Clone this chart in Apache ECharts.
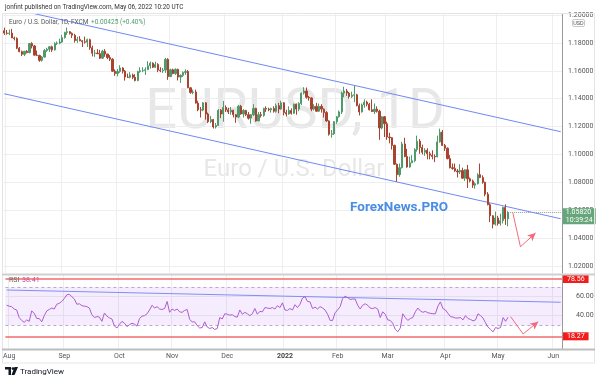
<!DOCTYPE html>
<html><head><meta charset="utf-8">
<script src="https://cdn.jsdelivr.net/npm/echarts@6/dist/echarts.min.js"></script>
<style>html,body{margin:0;padding:0;background:#fff}#c{width:600px;height:382px}</style>
</head><body><div id="c"></div>
<script>
// ---- data (EUR/USD daily, FXCM) ----
const openP = [1.1887,
1.1870,1.1868,1.1870,1.1835,1.1832,1.1762,1.1737,1.1718,1.1740,1.1730,1.1795,1.1778,1.1712,1.1710,1.1675,1.1698,1.1745,1.1755,1.1772,1.1750,1.1795,1.1798,
1.1806,1.1838,1.1875,1.1880,1.1868,1.1855,1.1817,1.1825,1.1815,1.1808,1.1805,1.1823,1.1765,1.1726,1.1727,1.1722,1.1690,1.1740,1.1720,1.1695,1.1683,1.1597,
1.1580,1.1595,1.1620,1.1597,1.1555,1.1553,1.1570,1.1553,1.1530,1.1595,1.1600,1.1602,1.1608,1.1635,1.1655,1.1625,1.1645,1.1605,1.1600,1.1605,1.1682,
1.1558,1.1607,1.1580,1.1610,1.1555,1.1567,1.1588,1.1595,1.1478,1.1445,1.1448,1.1368,1.1320,1.1318,1.1370,1.1290,1.1235,1.1250,1.1197,1.1208,1.1317,1.1290,
1.1337,1.1320,1.1305,1.1317,1.1285,1.1268,1.1345,1.1290,1.1315,1.1285,1.1260,1.1285,1.1330,1.1240,1.1285,1.1280,1.1330,1.1325,1.1320,1.1330,1.1310,1.1350,1.1325,
1.1370,1.1300,1.1290,1.1315,1.1295,1.1360,1.1325,1.1365,1.1440,1.1455,1.1410,1.1405,1.1325,1.1345,1.1310,1.1345,1.1325,1.1300,1.1240,1.1145,1.1148,
1.1235,1.1270,1.1305,1.1440,1.1455,1.1440,1.1415,1.1425,1.1428,1.1350,1.1305,1.1355,1.1375,1.1360,1.1320,1.1307,1.1325,1.1310,1.1190,1.1270,
1.1220,1.1125,1.1120,1.1065,1.0930,1.0855,1.0905,1.1075,1.0985,1.0910,1.0940,1.0955,1.1035,1.1095,1.1050,1.1015,1.1030,1.1005,1.0995,1.0985,1.0982,1.1090,1.1160,
1.1065,1.1045,1.0970,1.0905,1.0900,1.0882,1.0875,1.0885,1.0830,1.0890,1.0825,1.0810,1.0780,1.0790,1.0855,1.0835,1.0800,1.0715,1.0640,1.0560,1.0500,
1.0545,1.0505,1.0525,1.0620,1.05395];
const highP = [1.1909,
1.1892,1.1895,1.1900,1.1845,1.1840,1.1770,1.1745,1.1742,1.1748,1.1800,1.1805,1.1785,1.1745,1.1715,1.1705,1.1755,1.1765,1.1775,1.1780,1.1805,1.1810,1.1830,
1.1857,1.1880,1.1909,1.1885,1.1875,1.1865,1.1844,1.1848,1.1820,1.1845,1.1830,1.1830,1.1780,1.1750,1.1755,1.1750,1.1750,1.1755,1.1720,1.1712,1.1690,1.1610,
1.1613,1.1640,1.1625,1.1605,1.1580,1.1590,1.1580,1.1575,1.1600,1.1625,1.1625,1.1625,1.1668,1.1665,1.1660,1.1665,1.1655,1.1625,1.1620,1.1692,1.1690,
1.1615,1.1615,1.1617,1.1615,1.1575,1.1595,1.1610,1.1605,1.1480,1.1465,1.1465,1.1385,1.1340,1.1375,1.1375,1.1300,1.1275,1.1255,1.1225,1.1325,1.1325,1.1383,
1.1352,1.1335,1.1340,1.1320,1.1290,1.1355,1.1355,1.1325,1.1320,1.1305,1.1290,1.1360,1.1335,1.1305,1.1305,1.1335,1.1345,1.1335,1.1335,1.1345,1.1365,1.1370,1.1385,
1.1375,1.1320,1.1345,1.1330,1.1365,1.1365,1.1375,1.1445,1.1482,1.1480,1.1420,1.1410,1.1360,1.1370,1.1365,1.1360,1.1330,1.1310,1.1245,1.1175,1.1240,
1.1275,1.1315,1.1450,1.1485,1.1470,1.1448,1.1450,1.1495,1.1435,1.1365,1.1365,1.1395,1.1385,1.1370,1.1395,1.1365,1.1345,1.1320,1.1275,1.1275,
1.1235,1.1155,1.1125,1.1070,1.0935,1.0935,1.1090,1.1120,1.1040,1.0985,1.0995,1.1045,1.1135,1.1110,1.1070,1.1045,1.1045,1.1020,1.1030,1.1000,1.1135,1.1185,1.1175,
1.1075,1.1050,1.0995,1.0935,1.0935,1.0895,1.0930,1.0905,1.0895,1.0925,1.0835,1.0820,1.0800,1.0865,1.0935,1.0850,1.0805,1.0730,1.0650,1.0565,1.0590,
1.0560,1.0575,1.0625,1.0642,1.0593];
const lowP = [1.1857,
1.1859,1.1855,1.1835,1.1818,1.1755,1.1733,1.1705,1.1705,1.1725,1.1725,1.1760,1.1710,1.1705,1.1664,1.1665,1.1695,1.1735,1.1735,1.1735,1.1745,1.1785,1.1790,
1.1800,1.1830,1.1857,1.1860,1.1835,1.1802,1.1800,1.1812,1.1770,1.1795,1.1770,1.1750,1.1703,1.1700,1.1720,1.1684,1.1686,1.1700,1.1683,1.1670,1.1592,1.1563,
1.1560,1.1585,1.1580,1.1529,1.1548,1.1545,1.1540,1.1524,1.1525,1.1585,1.1590,1.1570,1.1605,1.1615,1.1620,1.1620,1.1590,1.1590,1.1585,1.1585,1.1535,
1.1555,1.1575,1.1570,1.1530,1.1513,1.1555,1.1570,1.1475,1.1435,1.1432,1.1365,1.1310,1.1265,1.1310,1.1250,1.1225,1.1225,1.1186,1.1186,1.1205,1.1260,1.1235,
1.1305,1.1290,1.1285,1.1265,1.1227,1.1260,1.1285,1.1265,1.1275,1.1250,1.1220,1.1275,1.1235,1.1240,1.1265,1.1270,1.1305,1.1310,1.1300,1.1300,1.1300,1.1295,1.1320,
1.1280,1.1272,1.1285,1.1285,1.1290,1.1285,1.1310,1.1355,1.1430,1.1400,1.1385,1.1310,1.1315,1.1305,1.1305,1.1300,1.1265,1.1235,1.1135,1.1120,1.1140,
1.1220,1.1265,1.1290,1.1410,1.1420,1.1400,1.1405,1.1375,1.1345,1.1280,1.1300,1.1335,1.1345,1.1315,1.1305,1.1290,1.1300,1.1105,1.1180,1.1125,
1.1105,1.1080,1.1035,1.0925,1.0805,1.0840,1.0900,1.0980,1.0905,1.0905,1.0940,1.0945,1.1020,1.1005,1.1000,1.0990,1.0965,1.0965,1.0965,1.0945,1.0980,1.1085,1.1060,
1.1025,1.0965,1.0900,1.0890,1.0875,1.0835,1.0860,1.0825,1.0810,1.0760,1.0800,1.0760,1.0755,1.0785,1.0830,1.0790,1.0700,1.0635,1.0515,1.0470,1.0490,
1.0490,1.0490,1.0505,1.0495,1.0485];
const closeP = [1.1870,
1.1868,1.1870,1.1835,1.1832,1.1762,1.1737,1.1718,1.1740,1.1730,1.1795,1.1778,1.1712,1.1710,1.1675,1.1698,1.1745,1.1755,1.1772,1.1750,1.1795,1.1798,1.1806,
1.1838,1.1875,1.1880,1.1868,1.1855,1.1817,1.1825,1.1815,1.1808,1.1805,1.1823,1.1765,1.1726,1.1727,1.1722,1.1690,1.1740,1.1720,1.1695,1.1683,1.1597,1.1580,
1.1595,1.1620,1.1597,1.1555,1.1553,1.1570,1.1553,1.1530,1.1595,1.1600,1.1602,1.1608,1.1635,1.1655,1.1625,1.1645,1.1605,1.1600,1.1605,1.1682,1.1558,
1.1607,1.1580,1.1610,1.1555,1.1567,1.1588,1.1595,1.1478,1.1445,1.1448,1.1368,1.1320,1.1318,1.1370,1.1290,1.1235,1.1250,1.1197,1.1208,1.1317,1.1290,1.1337,
1.1320,1.1305,1.1317,1.1285,1.1268,1.1345,1.1290,1.1315,1.1285,1.1260,1.1285,1.1330,1.1240,1.1285,1.1280,1.1330,1.1325,1.1320,1.1330,1.1310,1.1350,1.1325,1.1370,
1.1300,1.1290,1.1315,1.1295,1.1360,1.1325,1.1365,1.1440,1.1455,1.1410,1.1405,1.1325,1.1345,1.1310,1.1345,1.1325,1.1300,1.1240,1.1145,1.1148,1.1235,
1.1270,1.1305,1.1440,1.1455,1.1440,1.1415,1.1425,1.1428,1.1350,1.1305,1.1355,1.1375,1.1360,1.1320,1.1307,1.1325,1.1310,1.1190,1.1270,1.1220,
1.1125,1.1120,1.1065,1.0930,1.0855,1.0905,1.1075,1.0985,1.0910,1.0940,1.0955,1.1035,1.1095,1.1050,1.1015,1.1030,1.1005,1.0995,1.0985,1.0982,1.1090,1.1160,1.1065,
1.1045,1.0970,1.0905,1.0900,1.0882,1.0875,1.0885,1.0830,1.0890,1.0825,1.0810,1.0780,1.0790,1.0855,1.0835,1.0800,1.0715,1.0640,1.0560,1.0500,1.0545,
1.0505,1.0525,1.0620,1.05395,1.0582];
const rsiVals = [51,
50,49.5,47,46,38,35,33,35.5,34,45,42.5,37,37,33.5,40,45,46.5,48,47,52,53,55,
58,62,62.5,60,57.5,52,52.5,50.5,50,49.5,48,41,38,39,38.5,34,42.8,39.5,37.6,36.5,29,27,
31,34,32,28.5,30.5,32,31,29,37,39.5,40,42,46,51,48,49.5,47,46.5,47.5,55,43.5,
47,45.5,47,44,43.5,45.5,46.5,36,33.5,33.5,29.5,27,27.5,33.5,28,26.5,27.5,25.5,26.5,38,36.5,42,
41.5,40.5,41,39,38.5,46,41.5,43.5,42,40,42,47.5,41.5,44.5,44,48.5,48,47.5,48.5,47,50.5,48.5,53.5,
46,45.5,47.5,46,51.5,48.5,52,58.5,60,55,54.5,47.5,49,47,49.5,48,46,41.5,35,35,43,
46,49.5,58,60.5,59,57,57.5,57.5,51,47,51,52.5,51,48,47.5,48.5,47,38,44,41.5,
35.5,35,32,25.5,23,27,42,38,35,37,38,44,48,45,43.5,44.5,43,42.5,42,42,50,54.5,47.5,
46,42.5,39,38.5,37.5,37.5,38,35.5,40,37,36,34.5,35.5,42,40,37.5,32.5,28,25.5,23,27.5,
26.5,27.5,38,34,38.41];
const priceTicks = [1.02,1.04,1.06,1.08,1.10,1.12,1.14,1.16,1.18,1.20];
const rsiTicks = [40,60];
const upperChannel = [[0,1.2058],[221,1.1163]];
const lowerChannel = [[0,1.1435],[221,1.0539]];
const rsiTrend = [[0,67],[221,54.1]];
const priceArrow = [[202,1.0580],[205,1.0338],[211,1.0437]];
const rsiArrow = [[201,39],[206,20.7],[212,33.7]];
const lastPrice = 1.0582;
const rsiLevels = {top:78.56, bottom:18.27, hi:70, lo:30};
const monthNames = ['2022','Feb','Mar','Apr','May','Jun','Jul','Aug','Sep','Oct','Nov','Dec'];

// trading-day categories (weekdays) Jul 30 2021 .. Jun 6 2022
const dates = [];
for (let d = new Date(Date.UTC(2021,6,30)); d <= new Date(Date.UTC(2022,5,6)); d.setUTCDate(d.getUTCDate()+1)) {
  const w = d.getUTCDay(); if (w !== 0 && w !== 6) dates.push(d.toISOString().slice(0,10));
}
const isMonthStart = i => i > 0 && dates[i].slice(5,7) !== dates[i-1].slice(5,7);
const candles = openP.map((o,i)=>[o, closeP[i], lowP[i], highP[i]]);

const UP = '#4f9a6d', DN = '#a9432f', FONT = 'Roboto, "Noto Sans", sans-serif';
const chart = echarts.init(document.getElementById('c'), null, {renderer:'canvas'});
const gridLine = {show:true, lineStyle:{color:'#eeeeee', width:1}};
chart.setOption({
  animation:false,
  textStyle:{fontFamily:FONT},
  grid:[{left:3, top:14, width:559, height:259},{left:3, top:275, width:559, height:74}],
  xAxis:[
    {type:'category', gridIndex:0, data:dates, boundaryGap:true, axisLine:{show:false}, axisTick:{show:false}, axisLabel:{show:false},
     splitLine:{...gridLine, interval:(i)=>isMonthStart(i)}},
    {type:'category', gridIndex:1, data:dates, boundaryGap:true, axisLine:{show:false}, axisTick:{show:false},
     splitLine:{...gridLine, interval:(i)=>isMonthStart(i)},
     axisLabel:{interval:(i)=>isMonthStart(i), margin:4, fontSize:7, color:'#555', hideOverlap:false,
       formatter:(v)=>{const m=+v.slice(5,7); return m===1?'{b|2022}':monthNames[m-1];},
       rich:{b:{fontWeight:'bold', fontSize:7, color:'#444'}}}}
  ],
  yAxis:[
    {type:'value', gridIndex:0, position:'right', min:1.015, max:1.2007, scale:true,
     axisLine:{show:true, lineStyle:{color:'#9a9a9a', width:1}},
     axisTick:{show:false, customValues:priceTicks},
     axisLabel:{customValues:priceTicks, formatter:(v)=>v.toFixed(5), fontSize:7, color:'#555', margin:6},
     splitLine:gridLine},
    {type:'value', gridIndex:1, position:'right', min:4.9, max:82.8,
     axisLine:{show:true, lineStyle:{color:'#9a9a9a', width:1}},
     axisTick:{show:false, customValues:rsiTicks},
     axisLabel:{customValues:rsiTicks, formatter:(v)=>v.toFixed(2), fontSize:7, color:'#555', margin:14},
     splitLine:gridLine}
  ],
  series:[
    {type:'candlestick', xAxisIndex:0, yAxisIndex:0, data:candles, barWidth:1.7, z:5,
     itemStyle:{color:UP, color0:DN, borderColor:UP, borderColor0:DN, borderWidth:1},
     markLine:{silent:true, symbol:'none', animation:false,
       lineStyle:{type:'dotted', color:'#9a9a9a', width:1},
       data:[[{coord:[200,lastPrice]},{coord:[221,lastPrice]}]],
       label:{show:true, position:'end', distance:2, formatter:'1.05820\n10:39:24', color:'#fff', fontSize:7, lineHeight:7.5,
         backgroundColor:'#66a67a', padding:[1,3,0,3], offset:[0,3.5]}}},
    {type:'line', xAxisIndex:0, yAxisIndex:0, data:upperChannel, symbol:'none', z:4, lineStyle:{color:'#6d89f4', width:1}},
    {type:'line', xAxisIndex:0, yAxisIndex:0, data:lowerChannel, symbol:'none', z:4, lineStyle:{color:'#6d89f4', width:1},
     markLine:{silent:true, animation:false, symbolSize:[6,8], lineStyle:{color:'#f26b7a', width:1, type:'solid'}, label:{show:false},
       data:[[{coord:priceArrow[0], symbol:'none'},{coord:priceArrow[1], symbol:'none'}],
             [{coord:priceArrow[1], symbol:'none'},{coord:priceArrow[2], symbol:'arrow'}]]}},
    {type:'line', xAxisIndex:1, yAxisIndex:1, data:rsiVals, symbol:'none', z:5, lineStyle:{color:'#ae5bd0', width:1},
     markArea:{silent:true, itemStyle:{color:'rgba(160,90,235,0.11)'}, data:[[{yAxis:rsiLevels.lo},{yAxis:rsiLevels.hi}]]},
     markLine:{silent:true, symbol:'none', animation:false,
       data:[
         {yAxis:rsiLevels.hi, lineStyle:{type:[3,3], color:'#b9a9cf', width:1}, label:{show:false}},
         {yAxis:rsiLevels.lo, lineStyle:{type:[3,3], color:'#b9a9cf', width:1}, label:{show:false}},
         {yAxis:rsiLevels.top, lineStyle:{type:'solid', color:'#f36b6b', width:1.5},
          label:{show:true, position:'end', distance:1, formatter:'78.56', color:'#fff', fontSize:7, backgroundColor:'#f21c1c', padding:[1,4,0,4]}},
         {yAxis:rsiLevels.bottom, lineStyle:{type:'solid', color:'#f36b6b', width:1.5},
          label:{show:true, position:'end', distance:1, formatter:'18.27', color:'#fff', fontSize:7, backgroundColor:'#f21c1c', padding:[1,4,0,4]}}
       ]}},
    {type:'line', xAxisIndex:1, yAxisIndex:1, data:rsiTrend, symbol:'none', z:4, lineStyle:{color:'#7b90f0', width:1},
     markLine:{silent:true, animation:false, symbolSize:[6,8], lineStyle:{color:'#f26b7a', width:1, type:'solid'}, label:{show:false},
       data:[[{coord:rsiArrow[0], symbol:'none'},{coord:rsiArrow[1], symbol:'none'}],
             [{coord:rsiArrow[1], symbol:'none'},{coord:rsiArrow[2], symbol:'arrow'}]]}}
  ],
  graphic:[
    {type:'text', z:-10, silent:true, style:{x:295, y:114, text:'EURUSD, 1D', fill:'#e7e7e7', font:'56px '+FONT, textAlign:'center', textVerticalAlign:'middle'}},
    {type:'text', z:-10, silent:true, style:{x:294, y:170, text:'Euro / U.S. Dollar', fill:'#e7e7e7', font:'24px '+FONT, textAlign:'center', textVerticalAlign:'middle'}},
    {type:'text', z:50, silent:true, style:{x:350, y:208, text:'ForexNews.PRO', fill:'#4a8de4', font:'bold 13.5px '+FONT, textVerticalAlign:'middle'}},
    {type:'rect', z:60, silent:true, shape:{x:2.5, y:13.5, width:592, height:349.5}, style:{fill:'none', stroke:'#e3e5ea', lineWidth:1}},
    {type:'line', z:60, silent:true, shape:{x1:2, y1:274.5, x2:595, y2:274.5}, style:{stroke:'#cfcfcf', lineWidth:2}},
    {type:'line', z:60, silent:true, shape:{x1:2, y1:349.5, x2:595, y2:349.5}, style:{stroke:'#bdbdbd', lineWidth:2}},
    {type:'text', z:60, silent:true, style:{x:5, y:7, text:'jonfint published on TradingView.com, May 06, 2022 10:20 UTC', fill:'#333', font:'6.4px '+FONT, textVerticalAlign:'middle'}},
    {type:'text', z:60, silent:true, style:{x:9, y:22, text:'Euro / U.S. Dollar, 1D, FXCM', fill:'#555', font:'6.5px '+FONT, textVerticalAlign:'middle'}},
    {type:'text', z:60, silent:true, style:{x:91, y:22, text:'+0.00425 (+0.40%)', fill:'#4f9a6d', font:'6.5px '+FONT, textVerticalAlign:'middle'}},
    {type:'text', z:60, silent:true, style:{x:9, y:280, text:'RSI', fill:'#666', font:'7px '+FONT, textVerticalAlign:'middle'}},
    {type:'text', z:60, silent:true, style:{x:22, y:280, text:'38.41', fill:'#c0509e', font:'7px '+FONT, textVerticalAlign:'middle'}},
    {type:'rect', z:60, silent:true, shape:{x:572.5, y:19.5, width:12, height:7, r:1.5}, style:{fill:'#fff', stroke:'#bbb', lineWidth:0.8}},
    {type:'text', z:61, silent:true, style:{x:578.5, y:23.2, text:'USD', fill:'#555', font:'5.5px '+FONT, textAlign:'center', textVerticalAlign:'middle'}},
    {type:'polygon', z:60, silent:true, shape:{points:[[5,367],[11,367],[11,375],[8.5,375],[8.5,369.5],[5,369.5]]}, style:{fill:'#131722'}},
    {type:'circle', z:60, silent:true, shape:{cx:13, cy:368.6, r:1.4}, style:{fill:'#131722'}},
    {type:'polygon', z:60, silent:true, shape:{points:[[14.5,367],[18,367],[14.5,375],[11.5,375]]}, style:{fill:'#131722'}},
    {type:'text', z:60, silent:true, style:{x:20, y:371.5, text:'TradingView', fill:'#131722', font:'8px '+FONT, textVerticalAlign:'middle'}}
  ]
});
</script></body></html>
